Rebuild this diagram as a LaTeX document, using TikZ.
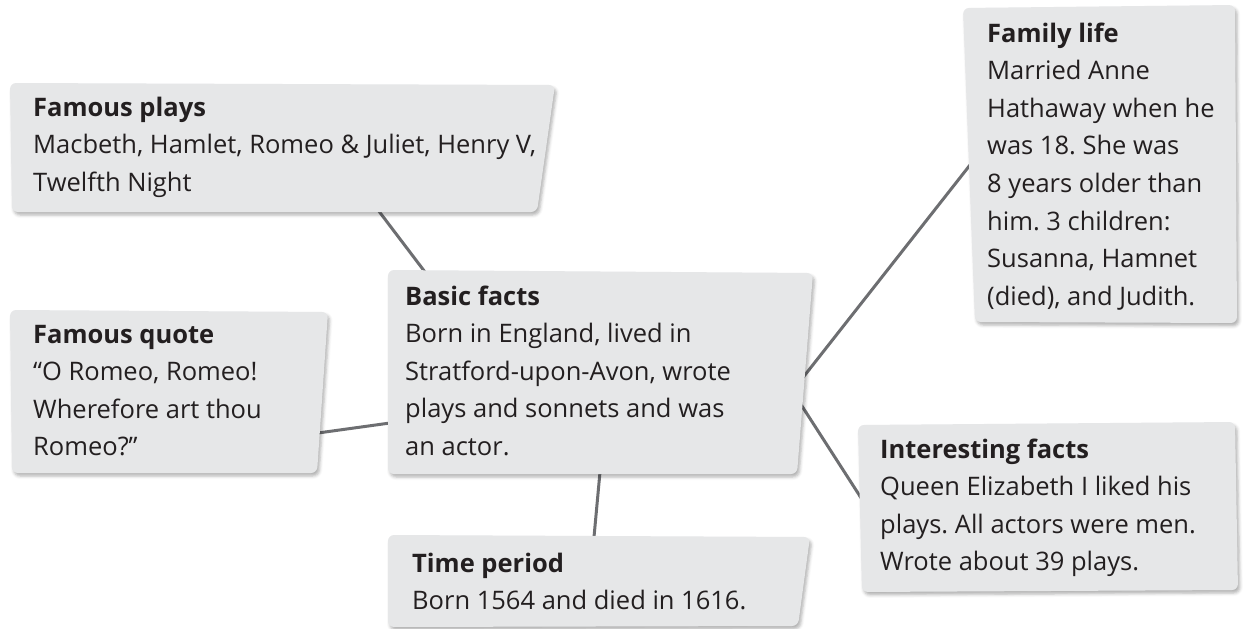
\documentclass[tikz,border=0pt]{standalone}
\usepackage{fontspec}
\setmainfont{Open Sans}
\usetikzlibrary{shadows.blur}
\definecolor{boxgray}{HTML}{E6E7E8}
\definecolor{linkgray}{HTML}{6D6E71}
\definecolor{inkdark}{HTML}{231F20}
\frenchspacing
\newcommand{\factlines}[1]{\begin{tabular}[t]{@{}l@{}}#1\end{tabular}}
\begin{document}
\begin{tikzpicture}[x=1pt, y=-1pt,
    box/.style={fill=boxgray, rounded corners=6pt,
      blur shadow={shadow xshift=2pt, shadow yshift=-3pt, shadow blur radius=3pt, shadow opacity=30}},
    link/.style={draw=linkgray, line width=3pt},
    fact/.style={anchor=base west, inner sep=0pt, text=inkdark,
      font=\fontsize{25.5}{37.6}\selectfont}]
        \useasboundingbox (0,0) rectangle (1243,629);
        \coordinate (plays_s)    at (378,210);
        \coordinate (quote_e)    at (318,433);
        \coordinate (family_w)   at (970,165);
        \coordinate (interest_w) at (865,504);
        \coordinate (period_n)   at (594,537);
        \coordinate (basic_nw)   at (425,272);
        \coordinate (basic_w)    at (390,423);
        \coordinate (basic_ne)   at (801,380);
        \coordinate (basic_se)   at (800,403);
        \coordinate (basic_s)    at (600,472);
        \draw[link] (plays_s) -- (basic_nw);
        \draw[link] (quote_e) -- (basic_w);
        \draw[link] (basic_ne) -- (family_w);
        \draw[link] (basic_se) -- (interest_w);
        \draw[link] (basic_s) -- (period_n);
        \fill[box] (10,83) -- (555,85) -- (537,212) -- (12,212) -- cycle;
        \fill[box] (963,8) -- (1235,5) -- (1237,323) -- (975,322) -- cycle;
        \fill[box] (388,270) -- (813,273) -- (797,474) -- (388,474) -- cycle;
        \fill[box] (10,310) -- (328,312) -- (317,473) -- (12,473) -- cycle;
        \fill[box] (388,535) -- (810,537) -- (798,626) -- (388,627) -- cycle;
        \fill[box] (858,425) -- (1235,422) -- (1238,590) -- (862,592) -- cycle;
        \node[fact] (plays) at (33,116) {\factlines{\textbf{Famous plays}\\Macbeth, Hamlet, Romeo \& Juliet, Henry V,\\Twelfth Night}};
        \node[fact] (family) at (987,42) {\factlines{\textbf{Family life}\\Married Anne\\Hathaway when he\\was 18. She was\\8 years older than\\him. 3 children:\\Susanna, Hamnet\\(died), and Judith.}};
        \node[fact] (basic) at (405,305) {\factlines{\textbf{Basic facts}\\Born in England, lived in\\Stratford-upon-Avon, wrote\\plays and sonnets and was\\an actor.}};
        \node[fact] (quote) at (33,343) {\factlines{\textbf{Famous quote}\\“O Romeo, Romeo!\\Wherefore art thou\\Romeo?”}};
        \node[fact] (period) at (412,572) {\factlines{\textbf{Time period}\\Born 1564 and died in 1616.}};
        \node[fact] (interest) at (880,458) {\factlines{\textbf{Interesting facts}\\Queen Elizabeth I liked his\\plays. All actors were men.\\Wrote about 39 plays.}};
\end{tikzpicture}
\end{document}
